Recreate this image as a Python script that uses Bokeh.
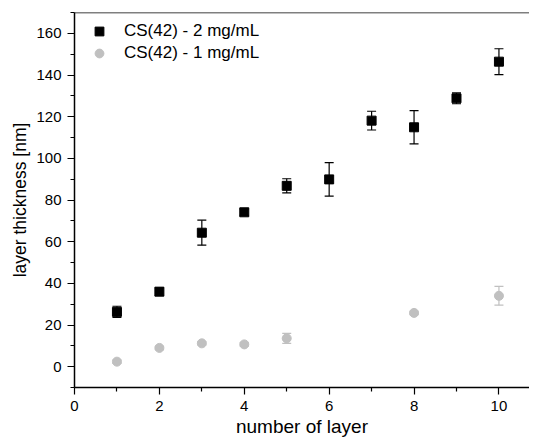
from bokeh.plotting import figure
from bokeh.models import (ColumnDataSource, Whisker, TeeHead, FixedTicker, Legend,
                          LegendItem, Span, Range1d)
from bokeh.embed import file_html
from bokeh.resources import INLINE

# ---- data ----
layers_2mg = [1, 2, 3, 4, 5, 6, 7, 8, 9, 10]
thick_2mg = [26.3, 36.0, 64.3, 74.1, 86.8, 89.9, 118.1, 114.9, 128.8, 146.4]
err_2mg = [2.7, 1.8, 6.0, 1.5, 3.4, 8.0, 4.5, 8.0, 2.6, 6.2]

layers_1mg = [1, 2, 3, 4, 5, 8, 10]
thick_1mg = [2.4, 9.0, 11.2, 10.7, 13.6, 25.8, 34.0]
err_1mg = [0.8, 0.8, 0.8, 0.8, 2.4, 0.8, 4.5]

x_ticks = [0, 2, 4, 6, 8, 10]
x_minor = [1, 3, 5, 7, 9]
y_ticks = [0, 20, 40, 60, 80, 100, 120, 140, 160]
y_minor = [-10, 10, 30, 50, 70, 90, 110, 130, 150, 170]

label_2mg = "CS(42) - 2 mg/mL"
label_1mg = "CS(42) - 1 mg/mL"
x_label = "number of layer"
y_label = "layer thickness [nm]"

FONT = "Liberation Sans"
GRAY = "#c0c0c0"

src2 = ColumnDataSource(dict(x=layers_2mg, y=thick_2mg,
                             lo=[v - e for v, e in zip(thick_2mg, err_2mg)],
                             hi=[v + e for v, e in zip(thick_2mg, err_2mg)]))
src1 = ColumnDataSource(dict(x=layers_1mg, y=thick_1mg,
                             lo=[v - e for v, e in zip(thick_1mg, err_1mg)],
                             hi=[v + e for v, e in zip(thick_1mg, err_1mg)]))

p = figure(width=529, height=440, output_backend="svg", toolbar_location=None,
           x_range=Range1d(0, 10.72), y_range=Range1d(-10, 170),
           min_border_left=74, min_border_right=0, min_border_top=12, min_border_bottom=53)
p.xgrid.visible = False
p.ygrid.visible = False
p.outline_line_color = None
p.background_fill_color = "white"
p.border_fill_color = "white"

# error bars
w1 = Whisker(source=src1, base="x", lower="lo", upper="hi", line_color=GRAY, line_width=1.2,
             upper_head=TeeHead(size=9, line_color=GRAY, line_width=1.2),
             lower_head=TeeHead(size=9, line_color=GRAY, line_width=1.2))
w2 = Whisker(source=src2, base="x", lower="lo", upper="hi", line_color="black", line_width=1.2,
             upper_head=TeeHead(size=9, line_color="black", line_width=1.2),
             lower_head=TeeHead(size=9, line_color="black", line_width=1.2))
p.add_layout(w1)
p.add_layout(w2)

r1 = p.scatter("x", "y", source=src1, marker="circle", size=9, fill_color=GRAY, line_color=GRAY)
r2 = p.scatter("x", "y", source=src2, marker="square", size=9, fill_color="black", line_color="black")

# top frame line
p.add_layout(Span(location=170, dimension="width", line_color="black", line_width=1.5))

# axes
for ax in (p.xaxis[0], p.yaxis[0]):
    ax.axis_line_color = "black"
    ax.axis_line_width = 1.5
    ax.major_tick_line_color = "black"
    ax.minor_tick_line_color = "black"
    ax.major_tick_line_width = 1.2
    ax.minor_tick_line_width = 1.2
    ax.major_tick_in = 0
    ax.major_tick_out = 7
    ax.minor_tick_in = 0
    ax.minor_tick_out = 4
    ax.major_label_text_font = FONT
    ax.major_label_text_font_size = "15px"
    ax.major_label_text_color = "black"
    ax.axis_label_text_font = FONT
    ax.axis_label_text_font_style = "normal"
    ax.axis_label_text_color = "black"

p.xaxis[0].axis_label_text_font_size = "19px"
p.yaxis[0].axis_label_text_font_size = "17.5px"
p.xaxis[0].ticker = FixedTicker(ticks=x_ticks, minor_ticks=x_minor)
p.yaxis[0].ticker = FixedTicker(ticks=y_ticks, minor_ticks=y_minor)
p.xaxis[0].axis_label = x_label
p.yaxis[0].axis_label = y_label
p.xaxis[0].major_label_standoff = 6
p.yaxis[0].major_label_standoff = 6
p.xaxis[0].axis_label_standoff = 2
p.yaxis[0].axis_label_standoff = 3

legend = Legend(items=[LegendItem(label=label_2mg, renderers=[r2]),
                       LegendItem(label=label_1mg, renderers=[r1])],
                location=(0, 323), margin=0, padding=4, spacing=0,
                glyph_width=50, glyph_height=22, label_height=22, label_standoff=0,
                label_text_font=FONT, label_text_font_size="17px", label_text_color="black",
                border_line_color=None, background_fill_alpha=0)
p.add_layout(legend)

open("out.html", "w").write(file_html(p, INLINE))
